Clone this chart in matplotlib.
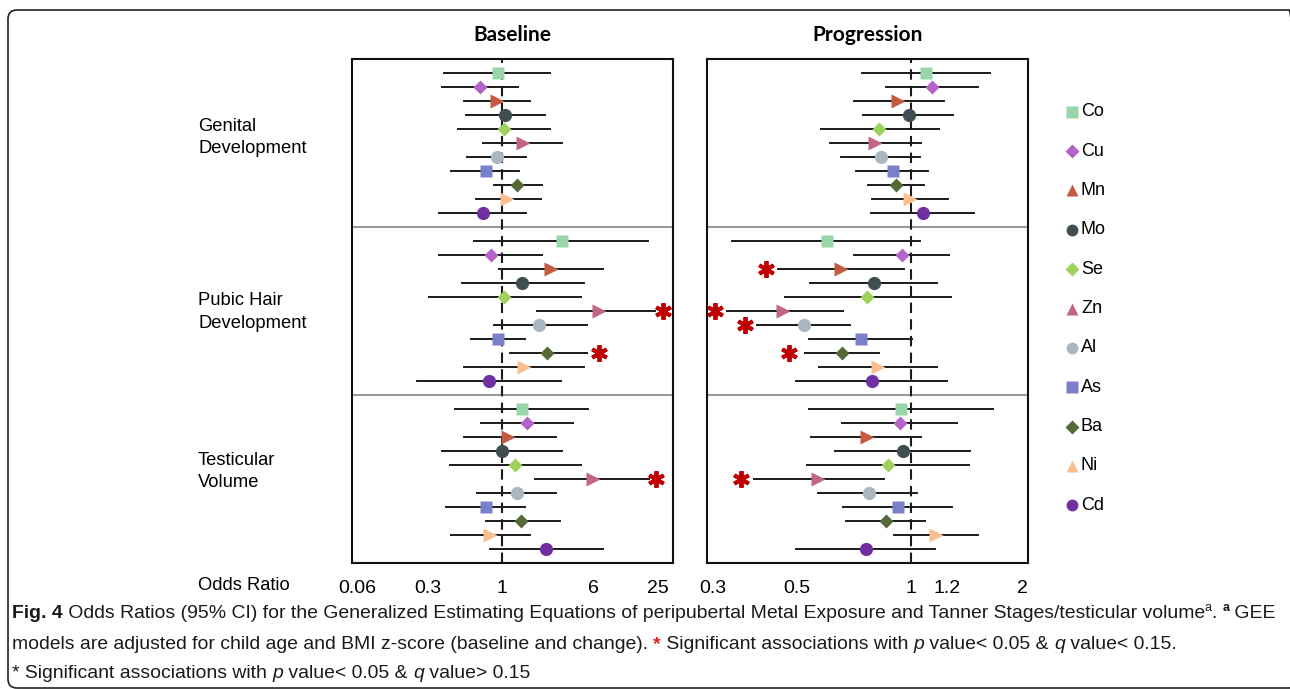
import numpy as np
import matplotlib
matplotlib.use("Agg")
import matplotlib.pyplot as plt
from matplotlib.patches import FancyBboxPatch
from matplotlib.transforms import IdentityTransform

plt.rcParams['font.family'] = ['Liberation Sans', 'DejaVu Sans']

# metals, in the order they are drawn (top to bottom inside each block)
metals = ["Co", "Cu", "Mn", "Mo", "Se", "Zn", "Al", "As", "Ba", "Ni", "Cd"]
colors = ["#98D6AA", "#B464C8", "#C45A42", "#404E52", "#9ED25A", "#C06488",
          "#AAB6C0", "#7A80C8", "#546838", "#FCBE8E", "#7030A0"]
plot_markers = ["s", "D", ">", "o", "D", ">", "o", "s", "D", ">", "o"]
legend_markers = ["s", "D", "^", "o", "D", "^", "o", "s", "D", "^", "o"]

outcomes = ["Genital\nDevelopment", "Pubic Hair\nDevelopment", "Testicular\nVolume"]

# ---- Baseline: odds ratio, lower CI, upper CI ----
base_genital_or = [0.93, 0.70, 0.92, 1.055, 1.034, 1.50, 0.92, 0.77, 1.356, 1.11, 0.738]
base_genital_lo = [0.391, 0.377, 0.542, 0.557, 0.489, 0.738, 0.569, 0.438, 0.878, 0.658, 0.360]
base_genital_hi = [2.56, 1.367, 1.72, 2.32, 2.56, 3.28, 1.59, 1.403, 2.20, 2.14, 1.59]

base_pubic_or = [3.28, 0.832, 2.60, 1.48, 1.034, 6.79, 2.09, 0.93, 2.44, 1.53, 0.805]
base_pubic_lo = [0.634, 0.360, 0.957, 0.524, 0.303, 2.00, 0.878, 0.607, 1.173, 0.542, 0.232]
base_pubic_hi = [20.1, 2.19, 7.40, 4.99, 4.73, 23.4, 5.30, 1.56, 5.30, 4.99, 3.17]

base_testis_or = [1.48, 1.64, 1.13, 1.0, 1.29, 5.97, 1.34, 0.771, 1.46, 0.823, 2.40]
base_testis_lo = [0.466, 0.707, 0.542, 0.377, 0.429, 1.93, 0.663, 0.402, 0.771, 0.436, 0.823]
base_testis_hi = [5.40, 4.05, 2.87, 3.28, 4.73, 20.3, 2.87, 1.56, 3.11, 1.74, 7.40]

# ---- Progression ----
prog_genital_or = [1.079, 1.112, 0.922, 0.986, 0.823, 0.803, 0.832, 0.896, 0.915, 0.994, 1.064]
prog_genital_lo = [0.741, 0.857, 0.707, 0.748, 0.578, 0.611, 0.652, 0.717, 0.771, 0.790, 0.784]
prog_genital_hi = [1.612, 1.485, 1.180, 1.250, 1.151, 1.054, 1.047, 1.088, 1.068, 1.206, 1.442]

prog_pubic_or = [0.599, 0.945, 0.652, 0.800, 0.765, 0.460, 0.522, 0.738, 0.656, 0.820, 0.788]
prog_pubic_lo = [0.3375, 0.707, 0.446, 0.541, 0.465, 0.326, 0.393, 0.538, 0.525, 0.573, 0.496]
prog_pubic_hi = [1.047, 1.219, 0.958, 1.143, 1.231, 0.660, 0.690, 1.005, 0.822, 1.143, 1.198]

prog_testis_or = [0.939, 0.937, 0.764, 0.954, 0.871, 0.569, 0.775, 0.926, 0.857, 1.133, 0.762]
prog_testis_lo = [0.538, 0.657, 0.545, 0.631, 0.532, 0.386, 0.568, 0.661, 0.674, 0.900, 0.496]
prog_testis_hi = [1.638, 1.285, 1.054, 1.406, 1.391, 0.850, 1.032, 1.239, 1.073, 1.485, 1.131]

# significance stars: (outcome index, metal, x position in OR units)
base_stars = [(1, "Zn", 27.7), (1, "Ba", 6.79), (2, "Zn", 23.9)]
prog_stars = [(1, "Mn", 0.4135), (1, "Zn", 0.304), (1, "Al", 0.365), (1, "Ba", 0.476),
              (2, "Zn", 0.356)]

# tick labels and where they sit along each (non-uniform) axis, as a fraction of width
base_ticks = [0.06, 0.3, 1, 6, 25]
base_tick_frac = [0.0156, 0.2368, 0.4673, 0.7508, 0.9533]
prog_ticks = [0.3, 0.5, 1, 1.2, 2]
prog_tick_frac = [0.0187, 0.2804, 0.6355, 0.7477, 0.9813]


def make_scale(vals, frac):
    lv = np.log10(vals)
    frac = np.asarray(frac, float)
    s0 = (lv[1] - lv[0]) / (frac[1] - frac[0])
    s1 = (lv[-1] - lv[-2]) / (frac[-1] - frac[-2])
    lv = np.r_[lv[0] - s0 * frac[0], lv, lv[-1] + s1 * (1 - frac[-1])]
    fr = np.r_[0.0, frac, 1.0]

    def fwd(x):
        x = np.clip(np.asarray(x, float), 1e-6, None)
        return np.interp(np.log10(x), lv, fr)

    def inv(p):
        return 10 ** np.interp(p, fr, lv)

    return fwd, inv, 10 ** lv[0], 10 ** lv[-1]


fig = plt.figure(figsize=(12.9, 6.89), dpi=100)

W, H = 1290, 689
ax_base = fig.add_axes([352 / W, 1 - 563 / H, 321 / W, 504 / H])
ax_prog = fig.add_axes([707 / W, 1 - 563 / H, 321 / W, 504 / H])

panels = [
    (ax_base, "Baseline", base_ticks, base_tick_frac,
     [(base_genital_or, base_genital_lo, base_genital_hi),
      (base_pubic_or, base_pubic_lo, base_pubic_hi),
      (base_testis_or, base_testis_lo, base_testis_hi)], base_stars),
    (ax_prog, "Progression", prog_ticks, prog_tick_frac,
     [(prog_genital_or, prog_genital_lo, prog_genital_hi),
      (prog_pubic_or, prog_pubic_lo, prog_pubic_hi),
      (prog_testis_or, prog_testis_lo, prog_testis_hi)], prog_stars),
]

for ax, title, ticks, tfrac, blocks, stars in panels:
    fwd, inv, xmin, xmax = make_scale(ticks, tfrac)
    ax.set_xscale("function", functions=(fwd, inv))
    ax.set_xlim(xmin, xmax)
    ax.set_ylim(36, 0)

    for g, (ors, los, his) in enumerate(blocks):
        for i in range(len(metals)):
            y = g * 12 + i + 1
            ax.plot([los[i], his[i]], [y, y], color="#1a1a1a", lw=1.4, zorder=2)
            mk = plot_markers[i]
            ms = {"s": 9, "D": 7.5, ">": 10, "o": 9.5}[mk]
            ax.plot(ors[i], y, marker=mk, ms=ms, color=colors[i], mec="none",
                    ls="none", zorder=3)

    for g, m, xs in stars:
        y = g * 12 + metals.index(m) + 1
        ax.plot(xs, y, marker=(6, 2, 0), ms=12, mew=2.8, color="#C00000",
                ls="none", zorder=4)

    # block separators and the null line
    for yy in (12, 24):
        ax.axhline(yy, color="#9a9a9a", lw=1.5, zorder=1)
    ax.axvline(1, color="#1a1a1a", lw=1.5, ls=(0, (5, 3)), zorder=1)

    ax.set_xticks(ticks)
    ax.set_xticklabels([str(t) for t in ticks], fontsize=14)
    ax.xaxis.set_minor_locator(matplotlib.ticker.NullLocator())
    ax.tick_params(axis="x", length=0, pad=12)
    ax.set_yticks([])
    for sp in ax.spines.values():
        sp.set_linewidth(1.5)
        sp.set_color("#111111")
    ax.set_title(title, fontsize=15, fontweight="bold", family=["Lato", "DejaVu Sans"],
                 pad=13)

# outcome labels on the left
label_y = [137.5, 312, 471.5]
for lab, yp in zip(outcomes, label_y):
    fig.text(198 / W, 1 - yp / H, lab, fontsize=13.2, va="center", ha="left",
             linespacing=1.42)

fig.text(198 / W, 1 - 586 / H, "Odds Ratio", fontsize=13.2, va="center", ha="left")

# legend
ax_leg = fig.add_axes([1060 / W, 1 - 525 / H, 100 / W, 433 / H])
ax_leg.set_xlim(0, 100)
ax_leg.set_ylim(len(metals) - 0.5, -0.5)
ax_leg.axis("off")
for i, m in enumerate(metals):
    mk = legend_markers[i]
    ms = {"s": 8, "D": 7, "^": 9, "o": 8.5}[mk]
    ax_leg.plot(12, i, marker=mk, ms=ms, color=colors[i], mec="none", ls="none")
    ax_leg.text(21, i, m, fontsize=13, va="center", ha="left")

# rounded frame around the figure
frame = FancyBboxPatch((8, 1), 1290, 679 - 1, boxstyle="round,pad=0,rounding_size=9",
                       transform=IdentityTransform(), fill=False, ec="#222222", lw=1.2)
fig.patches.append(frame)

# caption, drawn as runs of differently styled text
cap_family = ["DejaVu Sans Condensed", "Liberation Sans Narrow", "Liberation Sans"]
renderer = fig.canvas.get_renderer()

cap_lines = [
    (H - 618, [
        ("Fig. 4", "bold"),
        (" Odds Ratios (95% CI) for the Generalized Estimating Equations of peripubertal "
         "Metal Exposure and Tanner Stages/testicular volume", ""),
        ("a", "sup"), (". ", ""), ("a", "sup bold"), (" GEE", ""),
    ]),
    (H - 649, [
        ("models are adjusted for child age and BMI z-score (baseline and change). ", ""),
        ("*", "bold red"), (" Significant associations with ", ""), ("p", "italic"),
        (" value< 0.05 & ", ""), ("q", "italic"), (" value< 0.15.", ""),
    ]),
    (H - 678, [
        ("* Significant associations with ", ""), ("p", "italic"),
        (" value< 0.05 & ", ""), ("q", "italic"), (" value> 0.15", ""),
    ]),
]


def draw_runs(x, y, runs, size):
    texts = []
    for s, style in runs:
        kw = dict(fontsize=size, family=cap_family, color="#1a1a1a", va="baseline",
                  ha="left", transform=IdentityTransform(), fontstretch="condensed")
        yy = y
        if "bold" in style:
            kw["fontweight"] = "bold"
        if "italic" in style:
            kw["fontstyle"] = "italic"
        if "sup" in style:
            kw["fontsize"] = size * 0.65
            yy = y + size * 0.5
        if "red" in style:
            kw["color"] = "#E02020"
        t = fig.text(x, yy, s, **kw)
        texts.append(t)
        x = t.get_window_extent(renderer).x1
    return texts, x


# fit the first caption line to the width of the reference line
size = 14.0
texts, xend = draw_runs(12, cap_lines[0][0], cap_lines[0][1], size)
for t in texts:
    t.remove()
size = size * (1278 - 12) / (xend - 12)
for yb, runs in cap_lines:
    draw_runs(12, yb, runs, size)

fig.savefig("out.png", dpi=100)
